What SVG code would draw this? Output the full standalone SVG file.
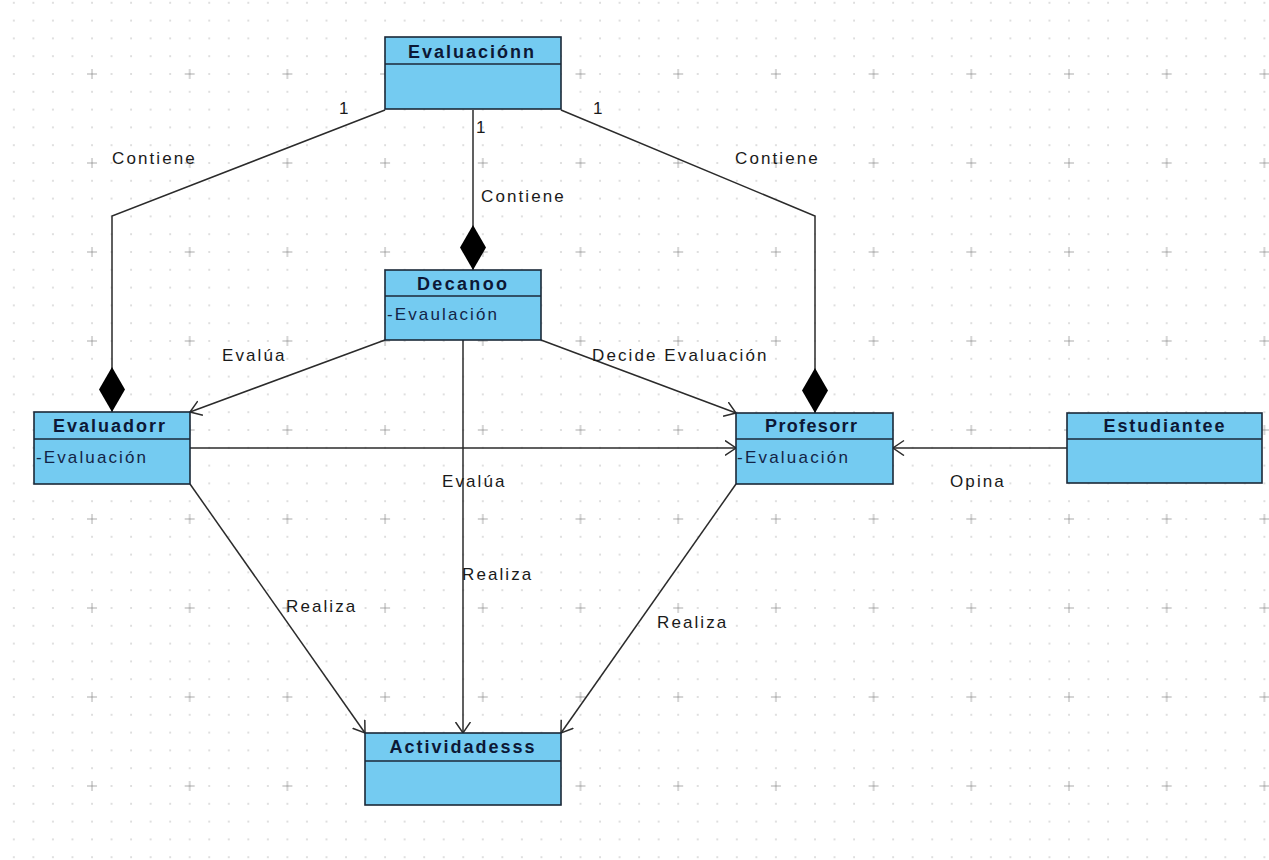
<svg xmlns="http://www.w3.org/2000/svg" width="1269" height="860" viewBox="0 0 1269 860">
  <style>
    .box { fill: #74cbf1; stroke: #1b2838; stroke-width: 1.6; }
    .sep { stroke: #1b2838; stroke-width: 1.4; }
    .title { font-family: "Liberation Sans", Arial, sans-serif; font-size: 18px; font-weight: bold; fill: #0c1836; text-anchor: middle; }
    .attr { font-family: "Liberation Sans", Arial, sans-serif; font-size: 17px; fill: #132447; }
    .lbl { font-family: "Liberation Sans", Arial, sans-serif; font-size: 17px; fill: #1a1a1a; letter-spacing: 2.1px; }
    .edge { fill: none; stroke: #2b2b2b; stroke-width: 1.5; }
    .assoc { marker-end: url(#open); }
    .comp { marker-end: url(#diamond); }
  </style>
  <defs>
    <pattern id="dots" patternUnits="userSpaceOnUse" x="91" y="73" width="19.54" height="17.8">
      <circle cx="1" cy="1" r="0.95" fill="#d2d2d2"/>
    </pattern>
    <pattern id="crosses" patternUnits="userSpaceOnUse" x="86" y="68" width="97.7" height="89">
      <path d="M1,6 H11 M6,1 V11" stroke="#acacac" stroke-width="1"/>
    </pattern>
    <marker id="open" markerUnits="userSpaceOnUse" markerWidth="14" markerHeight="18" refX="11.5" refY="8" orient="auto">
      <path d="M0.5,0.5 L11.5,8 L0.5,15.5" fill="none" stroke="#2b2b2b" stroke-width="1.5"/>
    </marker>
    <marker id="diamond" markerUnits="userSpaceOnUse" markerWidth="46" markerHeight="28" refX="45" refY="13" orient="auto">
      <path d="M0,13 L22.5,0 L45,13 L22.5,26 Z" fill="#000"/>
    </marker>
  </defs>

  <!-- drawing canvas with grid -->
  <rect width="1269" height="860" fill="#ffffff"/>
  <rect width="1269" height="860" fill="url(#dots)"/>
  <rect width="1269" height="860" fill="url(#crosses)"/>

  <!-- connectors -->
  <g id="connectors">
    <!-- composition: Evaluaciónn contains Evaluadorr, Decanoo, Profesorr -->
    <polyline class="edge comp" points="385,110 112,216 112,412"/>
    <line class="edge comp" x1="473" y1="110" x2="473" y2="270"/>
    <polyline class="edge comp" points="561,110 815,216 815,413"/>

    <!-- directed associations -->
    <line class="edge assoc" x1="385" y1="340" x2="190" y2="412"/>
    <line class="edge assoc" x1="541" y1="340" x2="736" y2="413"/>
    <line class="edge assoc" x1="463" y1="340" x2="463" y2="733"/>
    <line class="edge assoc" x1="190" y1="448" x2="736" y2="448"/>
    <line class="edge assoc" x1="1067" y1="448" x2="893" y2="448"/>
    <line class="edge assoc" x1="190" y1="484" x2="365" y2="733"/>
    <line class="edge assoc" x1="736" y1="484" x2="561" y2="733"/>

    <!-- multiplicities and role labels -->
    <text class="lbl" x="339" y="114">1</text>
    <text class="lbl" x="476" y="133">1</text>
    <text class="lbl" x="593" y="114">1</text>
    <text class="lbl" x="112" y="164">Contiene</text>
    <text class="lbl" x="481" y="202">Contiene</text>
    <text class="lbl" x="735" y="164">Contiene</text>
    <text class="lbl" x="222" y="361">Evalúa</text>
    <text class="lbl" x="592" y="361">Decide Evaluación</text>
    <text class="lbl" x="442" y="487">Evalúa</text>
    <text class="lbl" x="950" y="487">Opina</text>
    <text class="lbl" x="462" y="580">Realiza</text>
    <text class="lbl" x="286" y="612">Realiza</text>
    <text class="lbl" x="657" y="628">Realiza</text>
  </g>

  <!-- classes -->
  <g id="evaluacionn">
    <rect class="box" x="385" y="37" width="176" height="72"/>
    <line class="sep" x1="385" y1="64" x2="561" y2="64"/>
    <text class="title" x="471" y="58" textLength="126" lengthAdjust="spacing">Evaluaciónn</text>
  </g>

  <g id="decanoo">
    <rect class="box" x="385" y="270" width="156" height="70"/>
    <line class="sep" x1="385" y1="296" x2="541" y2="296"/>
    <text class="title" x="462" y="290" textLength="90" lengthAdjust="spacing">Decanoo</text>
    <text class="attr" x="387" y="320" textLength="110" lengthAdjust="spacing">-Evaulación</text>
  </g>

  <g id="evaluadorr">
    <rect class="box" x="34" y="412" width="156" height="72"/>
    <line class="sep" x1="34" y1="439" x2="190" y2="439"/>
    <text class="title" x="109" y="432" textLength="112" lengthAdjust="spacing">Evaluadorr</text>
    <text class="attr" x="36" y="463" textLength="110" lengthAdjust="spacing">-Evaluación</text>
  </g>

  <g id="profesorr">
    <rect class="box" x="736" y="413" width="157" height="71"/>
    <line class="sep" x1="736" y1="439" x2="893" y2="439"/>
    <text class="title" x="811" y="432" textLength="92" lengthAdjust="spacing">Profesorr</text>
    <text class="attr" x="737" y="463" textLength="111" lengthAdjust="spacing">-Evaluación</text>
  </g>

  <g id="estudiantee">
    <rect class="box" x="1067" y="413" width="195" height="70"/>
    <line class="sep" x1="1067" y1="439" x2="1262" y2="439"/>
    <text class="title" x="1164" y="432" textLength="121" lengthAdjust="spacing">Estudiantee</text>
  </g>

  <g id="actividadesss">
    <rect class="box" x="365" y="733" width="196" height="72"/>
    <line class="sep" x1="365" y1="761" x2="561" y2="761"/>
    <text class="title" x="462" y="753" textLength="145" lengthAdjust="spacing">Actividadesss</text>
  </g>
</svg>
